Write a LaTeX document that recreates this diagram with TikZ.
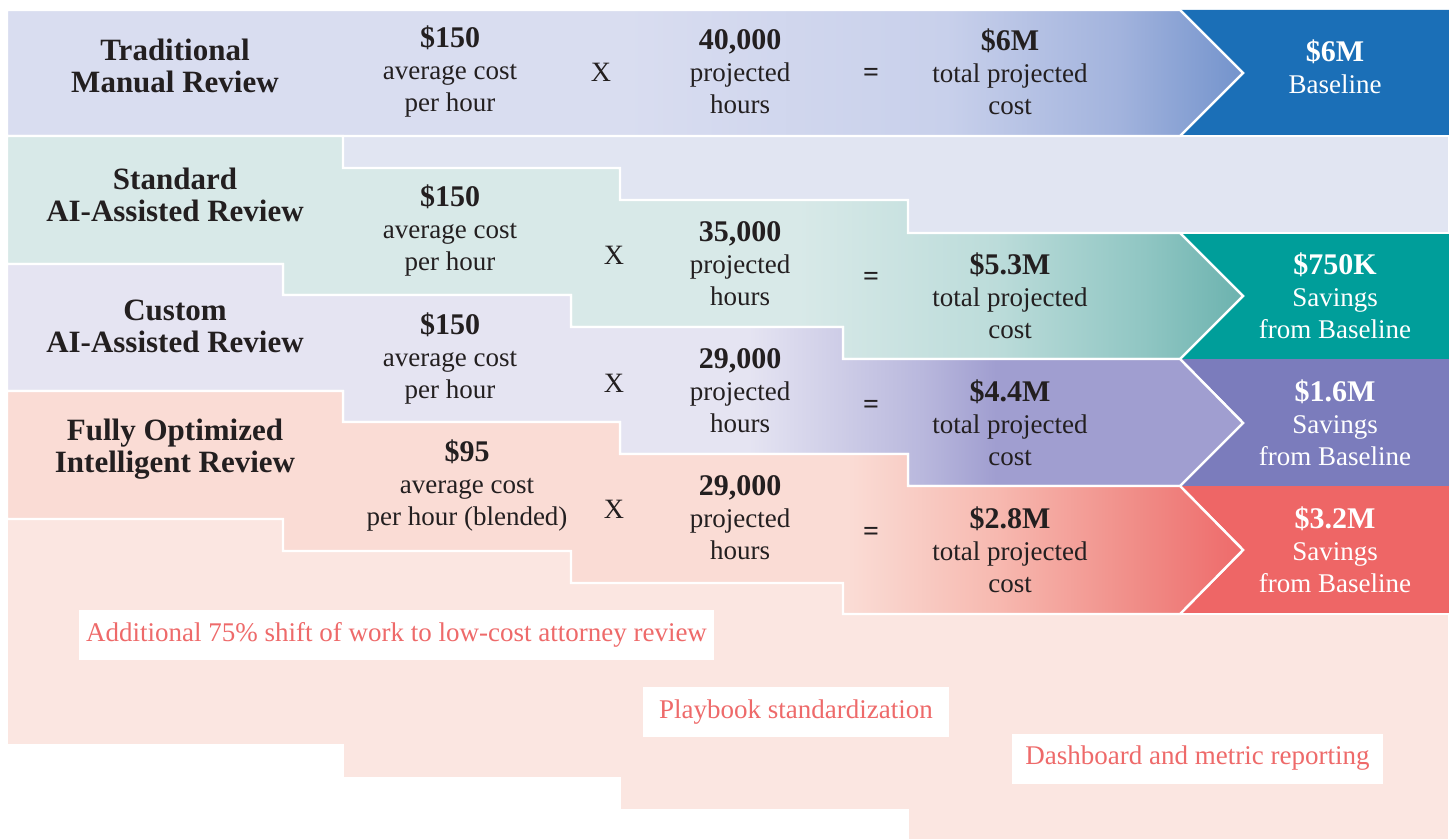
\documentclass[tikz,border=0pt]{standalone}
\usepackage{fontspec}
\setmainfont{Liberation Serif}
\usetikzlibrary{positioning}

\definecolor{ink}{HTML}{231F20}
\definecolor{tradlight}{HTML}{D9DDF0}
\definecolor{tradmid}{HTML}{C8D0EB}
\definecolor{tradmore}{HTML}{A2B3DD}
\definecolor{traddark}{HTML}{7393CC}
\definecolor{tradtail}{HTML}{E1E5F2}
\definecolor{tradbox}{HTML}{1B6FB7}
\definecolor{stdlight}{HTML}{D8E9E8}
\definecolor{stdmid}{HTML}{BCDCDA}
\definecolor{stdmore}{HTML}{90C6C3}
\definecolor{stddark}{HTML}{6BB2AE}
\definecolor{stdbox}{HTML}{009E9A}
\definecolor{custlight}{HTML}{E5E4F2}
\definecolor{custmid}{HTML}{B9B8DD}
\definecolor{custdark}{HTML}{A09ED0}
\definecolor{custbox}{HTML}{7B7CBC}
\definecolor{optlight}{HTML}{FADCD5}
\definecolor{optmid}{HTML}{F7B9B0}
\definecolor{optmore}{HTML}{F08A85}
\definecolor{optdark}{HTML}{EE6A6A}
\definecolor{opttail}{HTML}{FBE6E1}
\definecolor{optbox}{HTML}{EE6666}
\definecolor{notered}{HTML}{EE6A6A}

\pgfdeclarehorizontalshading{tradshade}{100bp}{color(0bp)=(tradlight); color(50bp)=(tradlight); color(63bp)=(tradmid); color(70bp)=(tradmore); color(75bp)=(traddark); color(100bp)=(traddark)}
\pgfdeclarehorizontalshading{stdshade}{100bp}{color(0bp)=(stdlight); color(57bp)=(stdlight); color(65bp)=(stdmid); color(71bp)=(stdmore); color(75bp)=(stddark); color(100bp)=(stddark)}
\pgfdeclarehorizontalshading{custshade}{100bp}{color(0bp)=(custlight); color(55bp)=(custlight); color(62bp)=(custmid); color(65bp)=(custdark); color(100bp)=(custdark)}
\pgfdeclarehorizontalshading{optshade}{100bp}{color(0bp)=(optlight); color(59bp)=(optlight); color(65bp)=(optmid); color(71bp)=(optmore); color(75bp)=(optdark); color(100bp)=(optdark)}

\newcommand{\amt}[1]{{\bfseries\fontsize{15}{16}\selectfont #1}}

\begin{document}
\begin{tikzpicture}[x=0.5pt, y=-0.5pt,
    gap/.style={draw=white, line width=1.2pt, line join=miter},
    head/.style={align=center, text=ink, font=\bfseries\fontsize{15.5}{16}\selectfont},
    figs/.style={align=center, text=ink, font=\fontsize{13.5}{16}\selectfont},
    sign/.style={text=ink, font=\fontsize{14}{16}\selectfont},
    result/.style={align=center, text=white, font=\fontsize{13.5}{16}\selectfont},
    note/.style={fill=white, text=notered, font=\fontsize{13.5}{16}\selectfont, inner sep=0pt}]
    \useasboundingbox (0,0) rectangle (1449,839);

    % boxes on the right
    \begin{scope}[gap]
        \fill[tradbox] (1180,10) -- (1449,10) -- (1449,136) -- (1180,136) -- (1243,73) -- cycle;
        \fill[stdbox] (1180,233) -- (1449,233) -- (1449,359) -- (1180,359) -- (1243,296) -- cycle;
        \fill[custbox] (1180,359) -- (1449,359) -- (1449,486) -- (1180,486) -- (1243,423) -- cycle;
        \fill[optbox] (1180,486) -- (1449,486) -- (1449,614) -- (1180,614) -- (1243,550) -- cycle;
        \draw (1180,10) -- (1243,73) -- (1180,136);
        \draw (1180,233) -- (1243,296) -- (1180,359);
        \draw (1180,359) -- (1243,423) -- (1180,486);
        \draw (1180,486) -- (1243,550) -- (1180,614);
    \end{scope}

    % light tails
    \filldraw[gap, fill=tradtail] (343,136) -- (1449,136) -- (1449,233) -- (908,233) -- (908,200)
        -- (620,200) -- (620,168) -- (343,168) -- cycle;
    \filldraw[gap, fill=opttail] (7,519) -- (283,519) -- (283,551) -- (571,551) -- (571,583) -- (843,583)
        -- (843,614) -- (1449,614) -- (1449,842) -- (908,842) -- (908,810) -- (620,810) -- (620,778)
        -- (343,778) -- (343,745) -- (7,745) -- cycle;

    % shaded bands
    \shade[gap, shading=tradshade] (7,10) -- (1180,10) -- (1243,73) -- (1180,136) -- (7,136) -- cycle;
    \shade[gap, shading=stdshade] (7,136) -- (343,136) -- (343,168) -- (620,168) -- (620,200) -- (908,200)
        -- (908,233) -- (1180,233) -- (1243,296) -- (1180,359) -- (843,359) -- (843,327) -- (571,327)
        -- (571,295) -- (283,295) -- (283,264) -- (7,264) -- cycle;
    \shade[gap, shading=custshade] (7,264) -- (283,264) -- (283,295) -- (571,295) -- (571,327) -- (843,327)
        -- (843,359) -- (1180,359) -- (1243,423) -- (1180,486) -- (908,486) -- (908,454) -- (620,454)
        -- (620,422) -- (343,422) -- (343,391) -- (7,391) -- cycle;
    \shade[gap, shading=optshade] (7,391) -- (343,391) -- (343,422) -- (620,422) -- (620,454) -- (908,454)
        -- (908,486) -- (1180,486) -- (1243,550) -- (1180,614) -- (843,614) -- (843,583) -- (571,583)
        -- (571,551) -- (283,551) -- (283,519) -- (7,519) -- cycle;

    % traditional
    \node[head] (tradlbl) at (175,66) {Traditional\\Manual Review};
    \node[figs] (tradrate) at (450,72) {\amt{\$150}\\average cost\\per hour};
    \node[sign] (tradx) at (601,72) {X};
    \node[figs] (tradhrs) at (740,72) {\amt{40,000}\\projected\\hours};
    \node[sign] (tradeq) at (871,75) {\textbf{=}};
    \node[figs] (tradtot) at (1010,72) {\amt{\$6M}\\total projected\\cost};
    \node[result] (tradres) at (1335,67) {\amt{\$6M}\\Baseline};

    % standard
    \node[head] (stdlbl) at (175,195) {Standard\\AI-Assisted Review};
    \node[figs] (stdrate) at (450,231) {\amt{\$150}\\average cost\\per hour};
    \node[sign] (stdx) at (614,255) {X};
    \node[figs] (stdhrs) at (740,264) {\amt{35,000}\\projected\\hours};
    \node[sign] (stdeq) at (871,279) {\textbf{=}};
    \node[figs] (stdtot) at (1010,296) {\amt{\$5.3M}\\total projected\\cost};
    \node[result] (stdres) at (1335,296) {\amt{\$750K}\\Savings\\from Baseline};

    % custom
    \node[head] (custlbl) at (175,326) {Custom\\AI-Assisted Review};
    \node[figs] (custrate) at (450,359) {\amt{\$150}\\average cost\\per hour};
    \node[sign] (custx) at (614,383) {X};
    \node[figs] (custhrs) at (740,391) {\amt{29,000}\\projected\\hours};
    \node[sign] (custeq) at (871,407) {\textbf{=}};
    \node[figs] (custtot) at (1010,423) {\amt{\$4.4M}\\total projected\\cost};
    \node[result] (custres) at (1335,423) {\amt{\$1.6M}\\Savings\\from Baseline};

    % fully optimized
    \node[head] (optlbl) at (175,449) {Fully Optimized\\Intelligent Review};
    \node[figs] (optrate) at (467,486) {\amt{\$95}\\average cost\\per hour (blended)};
    \node[sign] (optx) at (614,509) {X};
    \node[figs] (opthrs) at (740,518) {\amt{29,000}\\projected\\hours};
    \node[sign] (opteq) at (871,534) {\textbf{=}};
    \node[figs] (opttot) at (1010,550) {\amt{\$2.8M}\\total projected\\cost};
    \node[result] (optres) at (1335,550) {\amt{\$3.2M}\\Savings\\from Baseline};

    % notes
    \node[note, minimum width=317.5pt, minimum height=25pt] (shift) at (396.5,635) {Additional 75\% shift of work to low-cost attorney review};
    \node[note, minimum width=153pt, minimum height=25pt] (playbook) at (796,712) {Playbook standardization};
    \node[note, minimum width=185.5pt, minimum height=25pt] (dash) at (1197.5,758.5) {Dashboard and metric reporting};
\end{tikzpicture}
\end{document}
